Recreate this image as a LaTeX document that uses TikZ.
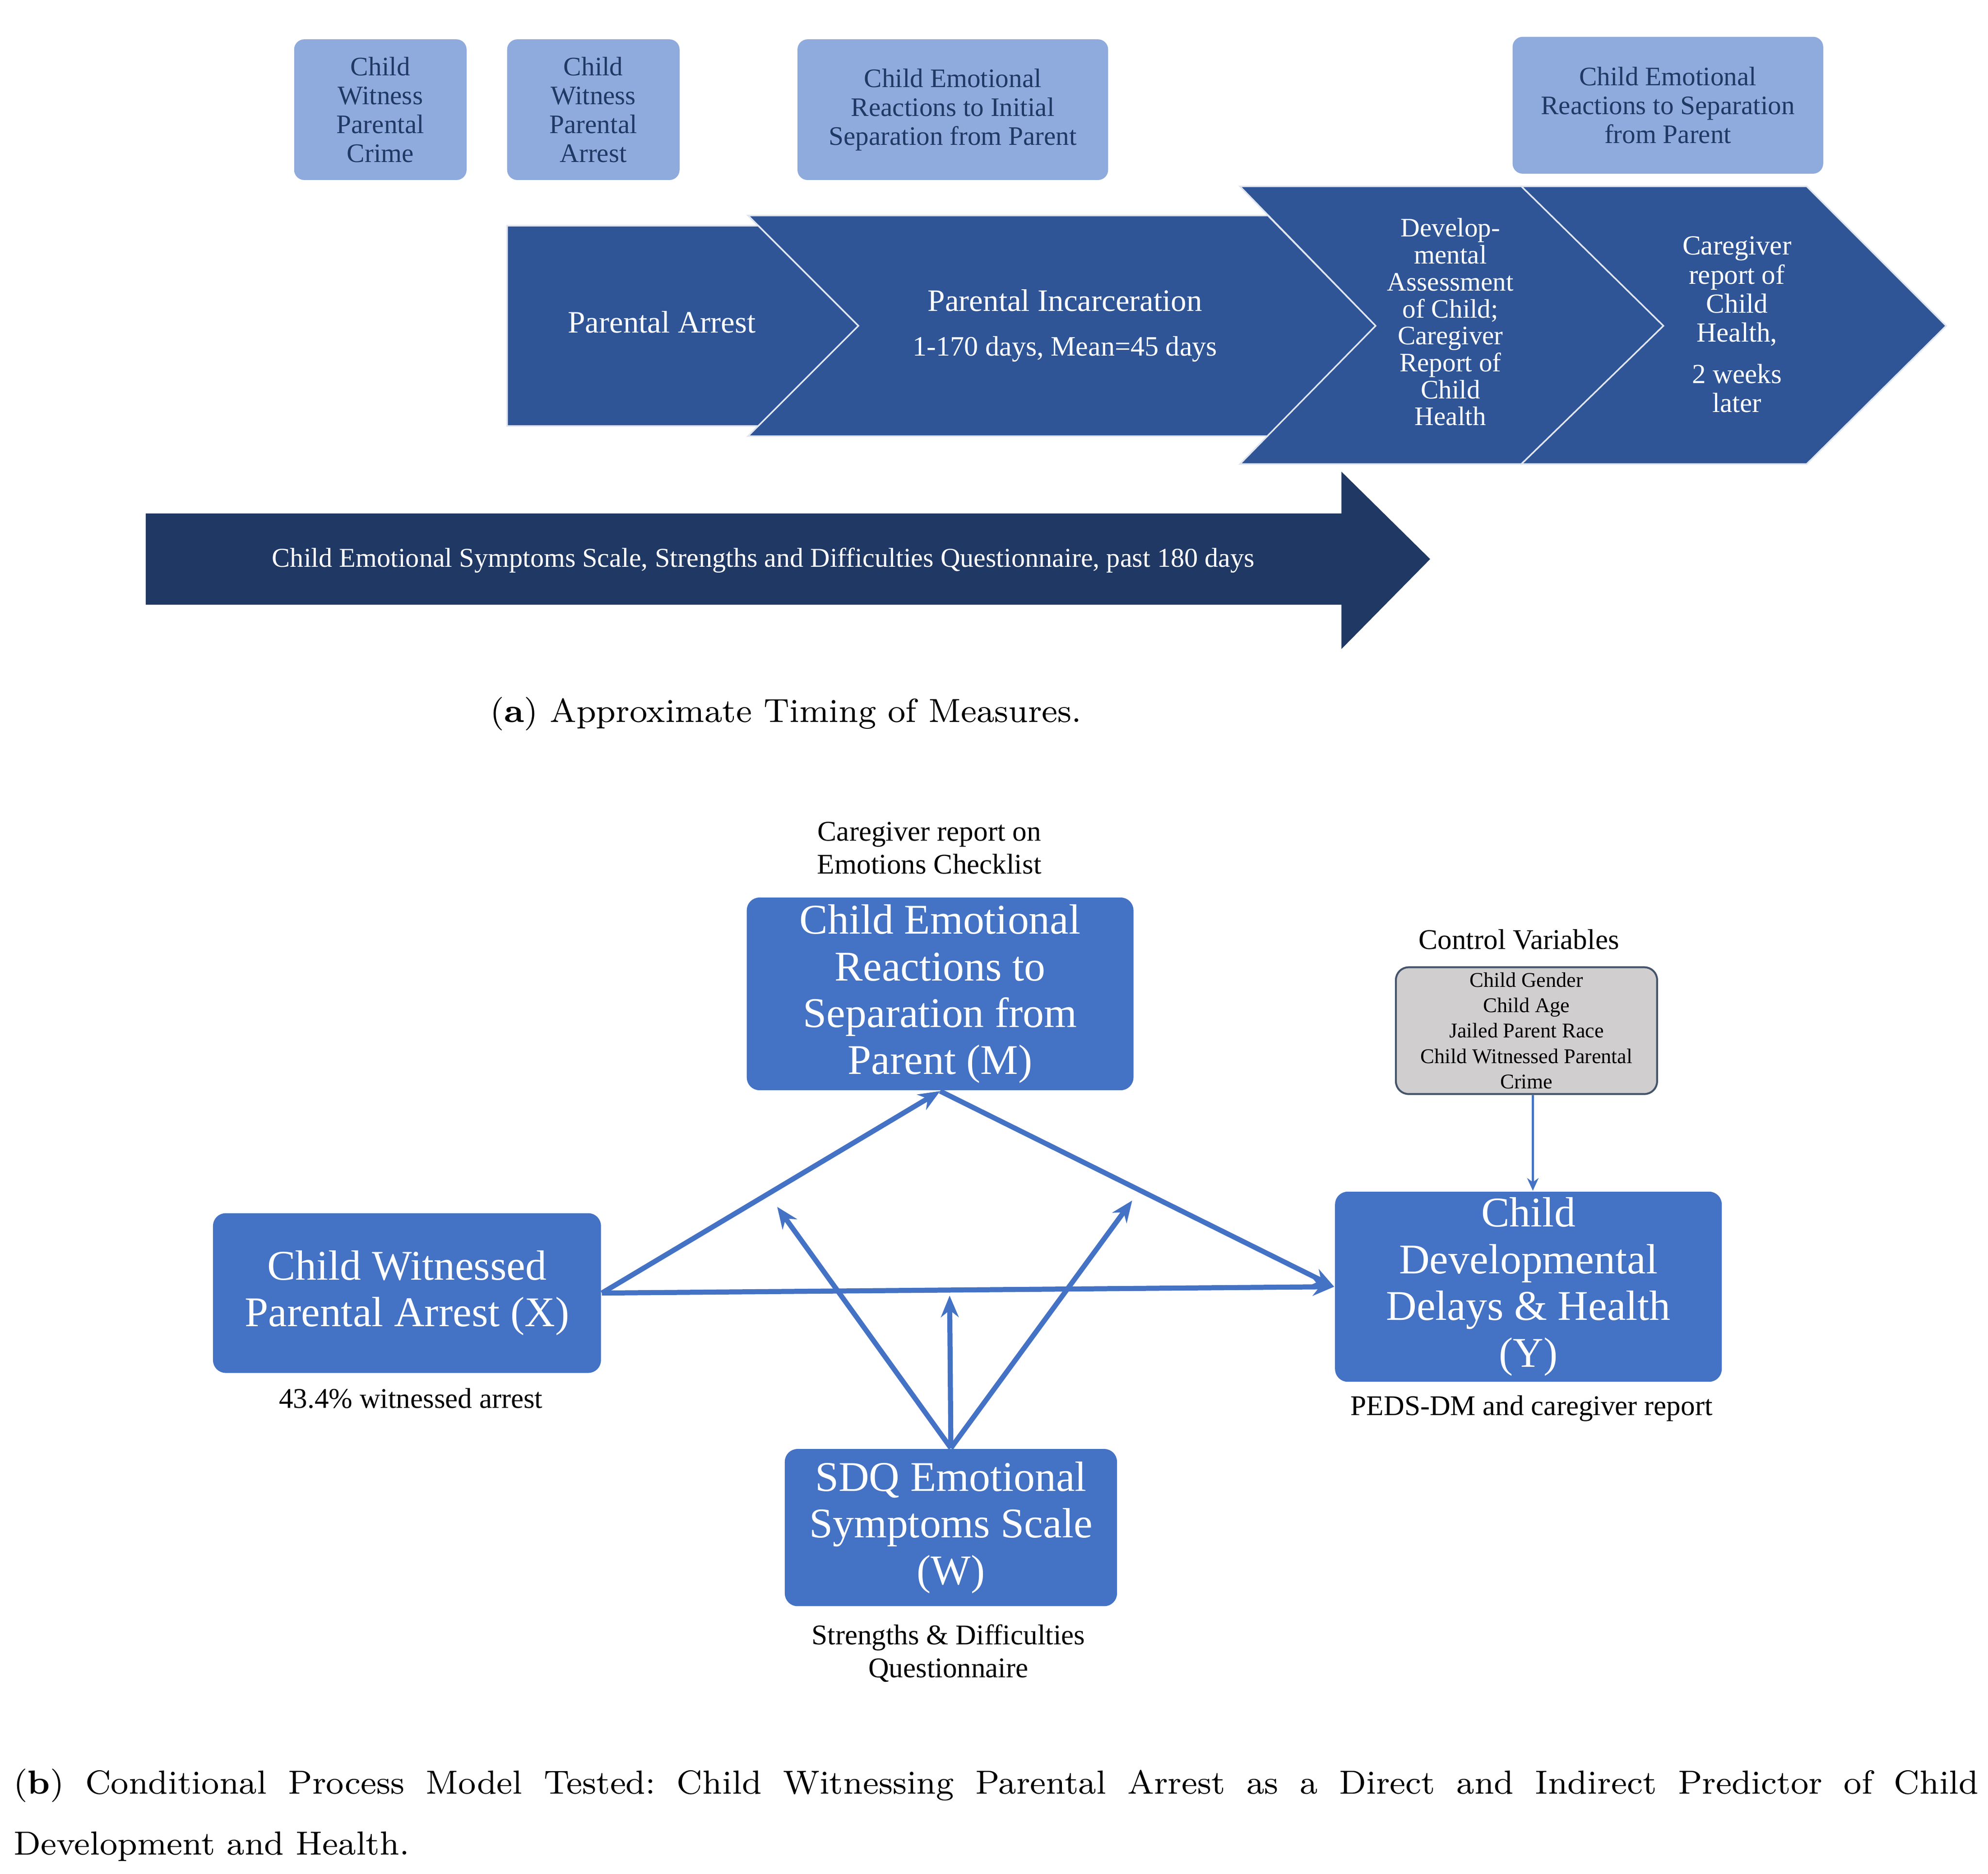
\documentclass[tikz,border=0pt]{standalone}
\usepackage{fontspec}
\newfontfamily\timesfont{Liberation Serif}
\usepackage{tikz}
\usetikzlibrary{arrows.meta,positioning}
\frenchspacing

\definecolor{lightbox}{HTML}{8FAADC}
\definecolor{boxtext}{HTML}{1F3864}
\definecolor{chevron}{HTML}{2F5597}
\definecolor{navyarrow}{HTML}{203864}
\definecolor{modelblue}{HTML}{4472C4}
\definecolor{ctrlgray}{HTML}{D0CECE}
\definecolor{ctrlline}{HTML}{44546A}

\tikzset{
  topbox/.style={fill=lightbox, rounded corners=0.8mm, text=boxtext, align=center, inner sep=0pt,
    font=\timesfont\fontsize{6}{6.5}\selectfont},
  chevfill/.style={fill=chevron, draw=white!85!chevron, line width=0.12mm},
  chevtext/.style={text=white, align=center, inner sep=0pt},
  modelbox/.style={fill=modelblue, rounded corners=1mm, text=white, align=center, inner sep=0pt,
    font=\timesfont\fontsize{9.5}{10.5}\selectfont},
  lbl/.style={align=center, inner sep=0pt, font=\timesfont\fontsize{6.4}{7.4}\selectfont},
  arr/.style={draw=modelblue, line width=0.4mm, -{Stealth[length=1.7mm,width=1.4mm]}},
  captext/.style={inner sep=0pt, font=\fontsize{7.5}{13.66}\selectfont}
}

\begin{document}
\begin{tikzpicture}[x=0.1mm, y=-0.1mm]
\useasboundingbox (0,0) rectangle (1568,1478);

% (a) timing of measures
\node[topbox, minimum width=13.6mm, minimum height=11.1mm] (crime) at (300,86.5) {Child\\Witness\\Parental\\Crime};
\node[topbox, minimum width=13.6mm, minimum height=11.1mm] (witarrest) at (468,86.5) {Child\\Witness\\Parental\\Arrest};
\node[topbox, minimum width=24.5mm, minimum height=11.1mm] (initial) at (751.5,86.5) {Child Emotional\\Reactions to Initial\\Separation from Parent};
\node[topbox, minimum width=24.5mm, minimum height=10.8mm] (separation) at (1315.5,83) {Child Emotional\\Reactions to Separation\\from Parent};

\path[chevfill] (590,170) -- (1000,170) -- (1085,257) -- (1000,344) -- (590,344) -- (677,257) -- cycle;
\path[chevfill] (400,178) -- (598,178) -- (677,257) -- (598,336) -- (400,336) -- cycle;
\path[chevfill] (978,147) -- (1200,147) -- (1312,257) -- (1200,366) -- (978,366) -- (1085,257) -- cycle;
\path[chevfill] (1200,147) -- (1425,147) -- (1535,257) -- (1425,366) -- (1200,366) -- (1312,257) -- cycle;

\node[chevtext, font=\timesfont\fontsize{7}{7}\selectfont] (arrestlbl) at (522,254) {Parental Arrest};
\node[chevtext, font=\timesfont\fontsize{7}{7}\selectfont] (incarlbl) at (840,257)
  {Parental Incarceration\\[3pt]{\fontsize{6.3}{7}\selectfont 1-170 days, Mean=45 days}};
\node[chevtext, font=\timesfont\fontsize{6}{6.05}\selectfont] (devlbl) at (1144,254) {Develop-\\mental\\Assessment\\of Child;\\Caregiver\\Report of\\Child\\Health};
\node[chevtext, font=\timesfont\fontsize{6.2}{6.5}\selectfont] (carelbl) at (1370,256) {Caregiver\\report of\\Child\\Health,\\[2.8pt]2 weeks\\later};

\path[fill=navyarrow] (115,405) -- (1058,405) -- (1058,372) -- (1128,441) -- (1058,512) -- (1058,477) -- (115,477) -- cycle;
\node[chevtext, font=\timesfont\fontsize{6.1}{6.1}\selectfont] (sdqlbl) at (602,442) {Child Emotional Symptoms Scale, Strengths and Difficulties Questionnaire, past 180 days};

\node[captext] (capa) at (620,563) {(\textbf{a}) Approximate Timing of Measures.};

% (b) conditional process model
\node[modelbox, minimum width=30.5mm, minimum height=15.2mm] (M) at (741.5,784) {Child Emotional\\Reactions to\\Separation from\\Parent (M)};
\node[modelbox, minimum width=30.6mm, minimum height=12.6mm] (X) at (321,1020) {Child Witnessed\\Parental Arrest (X)};
\node[modelbox, minimum width=30.5mm, minimum height=15mm] (Y) at (1205.5,1015) {Child\\Developmental\\Delays \& Health\\(Y)};
\node[modelbox, minimum width=26.2mm, minimum height=12.4mm] (W) at (750,1205) {SDQ Emotional\\Symptoms Scale\\(W)};
\node[fill=ctrlgray, draw=ctrlline, line width=0.15mm, rounded corners=1mm, align=center, inner sep=0pt,
  minimum width=20.6mm, minimum height=10mm, font=\timesfont\fontsize{4.7}{5.7}\selectfont] (ctrl) at (1204,813)
  {Child Gender\\Child Age\\Jailed Parent Race\\Child Witnessed Parental\\Crime};

\node[lbl] (Mlbl) at (733,669) {Caregiver report on\\Emotions Checklist};
\node[lbl] (ctrllbl) at (1198,741) {Control Variables};
\node[lbl] (Xlbl) at (324,1103) {43.4\% witnessed arrest};
\node[lbl] (Ylbl) at (1208,1111) {PEDS-DM and caregiver report};
\node[lbl] (Wlbl) at (748,1304) {Strengths \& Difficulties\\Questionnaire};

\coordinate (modA) at (613,952);
\coordinate (modC) at (749,1022);
\coordinate (modB) at (893,947);

\draw[arr] (X.east) -- (M.south);
\draw[arr] (M.south) -- (Y.west);
\draw[arr] (X.east) -- (Y.west);
\draw[arr] (W.north) -- (modA);
\draw[arr] (W.north) -- (modC);
\draw[arr] (W.north) -- (modB);
\draw[draw=modelblue, line width=0.15mm, -{Stealth[length=1mm,width=0.9mm]}] (ctrl.south -| 1209,0) -- (Y.north -| 1209,0);

\node[captext, anchor=base west] (capb) at (10,1415)
  {\makebox[155mm][s]{\spaceskip=0.33em plus 3em\relax (\textbf{b}) Conditional Process Model Tested: Child Witnessing Parental Arrest as a Direct and Indirect Predictor of Child}};
\node[captext, anchor=base west] (capbend) at (10,1463) {Development and Health.};
\end{tikzpicture}
\end{document}
